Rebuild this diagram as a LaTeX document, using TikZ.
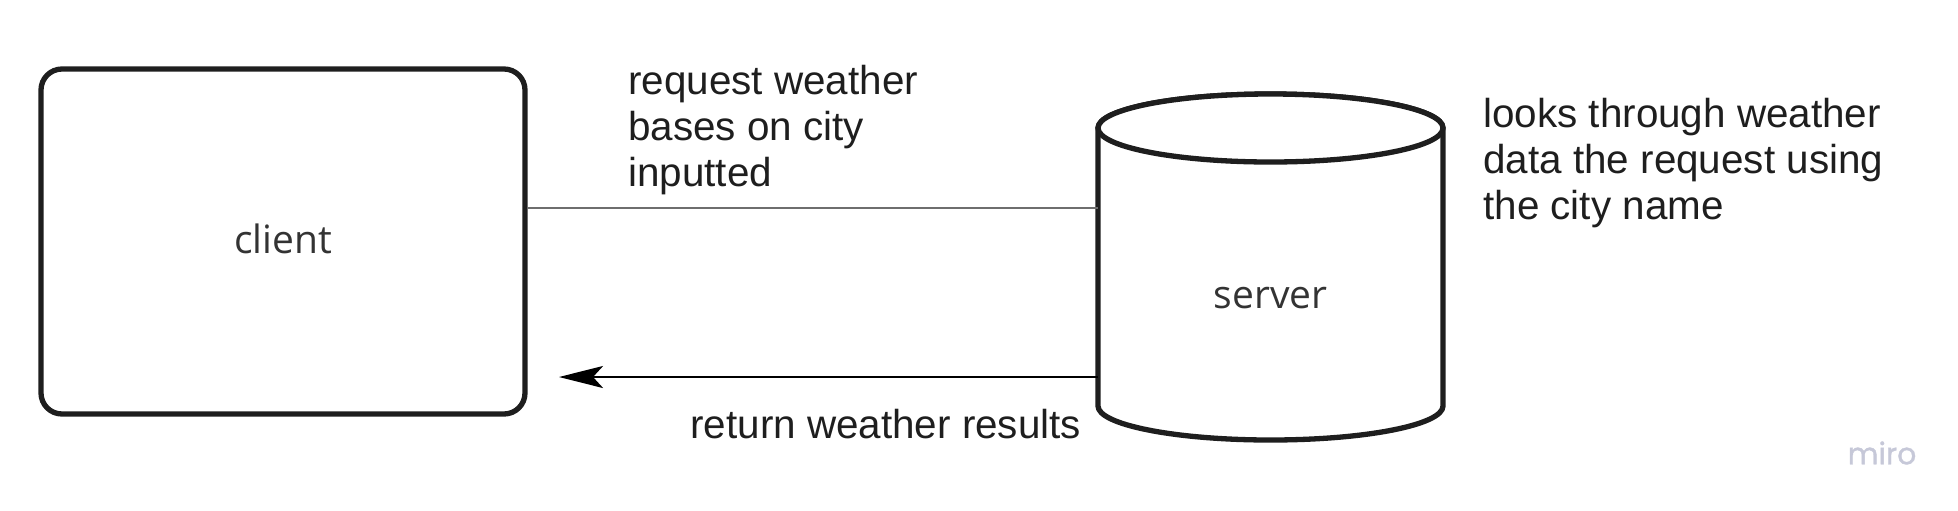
\documentclass[tikz,border=0pt]{standalone}
\usepackage{fontspec}
\setmainfont{Liberation Sans}
\newfontfamily\opensans{Open Sans}
\newfontfamily\poppins[FakeBold=1.2]{Poppins}
\usetikzlibrary{arrows.meta}
\definecolor{ink}{HTML}{1E1E1E}
\definecolor{labelgray}{HTML}{333333}
\definecolor{linkgray}{HTML}{6E6E6E}
\definecolor{mirogray}{HTML}{C6C8D8}
\tikzset{
  shapebox/.style={draw=ink, line width=2.65pt, rounded corners=10.5pt, fill=white, inner sep=0pt},
  shapelabel/.style={font=\opensans\fontsize{19.5}{23}\selectfont, text=labelgray, inner sep=0pt, anchor=base},
  note/.style={font=\fontsize{20.2}{23}\selectfont, text=ink, inner sep=0pt, align=left, anchor=base west},
  cylline/.style={draw=ink, line width=2.65pt, fill=white, line join=round, line cap=round},
  reqline/.style={draw=linkgray, line width=0.75pt},
  resline/.style={draw=black, line width=1.4pt, -{Stealth[length=22pt,width=11pt,inset=5pt]}}
}
\begin{document}
\begin{tikzpicture}[x=0.5pt,y=-0.5pt]
\useasboundingbox (0,0) rectangle (1958,510);
% client
\node[shapebox, minimum width=242pt, minimum height=172.5pt] (client) at (283,241.5) {};
\node[shapelabel] (clienttext) at (283,253) {client};
% server cylinder
\node[inner sep=0pt, minimum width=172.5pt, minimum height=173pt] (server) at (1270.5,267) {};
\path[cylline] (1098,128) -- (1098,406) arc[start angle=180, end angle=0, x radius=172.5, y radius=34] -- (1443,128) arc[start angle=0, end angle=-180, x radius=172.5, y radius=34] -- cycle;
\draw[cylline] (1270.5,128) ellipse[x radius=172.5, y radius=34];
\node[shapelabel] (servertext) at (1270.5,308) {server};
% connectors
\coordinate (reqy) at (0,208);
\coordinate (resy) at (0,377);
\draw[reqline] (client.east |- reqy) -- (server.west |- reqy);
\coordinate (restip) at (559,377);
\draw[resline] (server.west |- resy) -- (restip);
% notes (base anchor = baseline of last line)
\node[note] (reqnote) at (628,186) {request weather\\bases on city\\inputted};
\node[note] (srvnote) at (1483,219) {looks through weather\\data the request using\\the city name};
\node[note] (resnote) at (690,438) {return weather results};
% watermark
\node[font=\poppins\fontsize{15}{18}\selectfont, text=mirogray, inner sep=0pt] (miro) at (1882,453) {miro};
\end{tikzpicture}
\end{document}
